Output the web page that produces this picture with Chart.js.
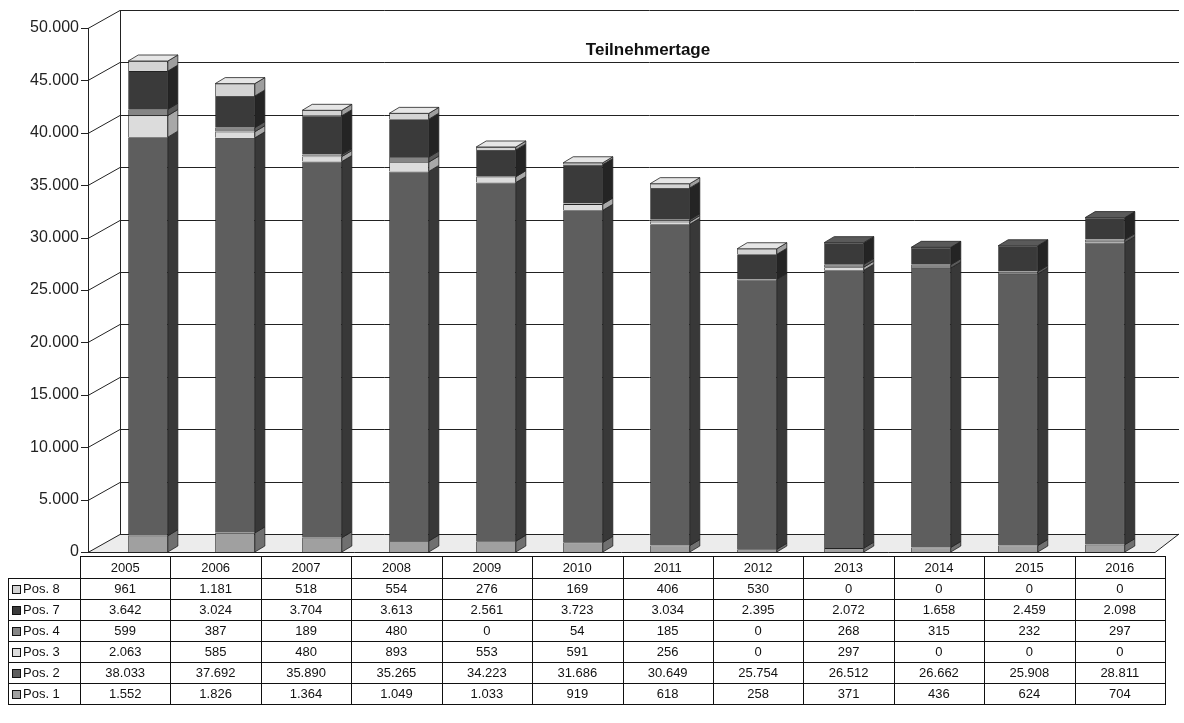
<!DOCTYPE html>
<html>
<head>
<meta charset="utf-8">
<script src="https://cdn.jsdelivr.net/npm/chart.js@4.4.0/dist/chart.umd.min.js"></script>
<style>
  html, body { margin: 0; padding: 0; background: #fff; }
  #wrap { width: 1184px; height: 723px; position: relative; }
</style>
</head>
<body>
<div id="wrap"><canvas id="chart" width="1184" height="723"></canvas></div>
<script>
const years = ['2005', '2006', '2007', '2008', '2009', '2010', '2011', '2012', '2013', '2014', '2015', '2016'];
const pos1 = [1552, 1826, 1364, 1049, 1033, 919, 618, 258, 371, 436, 624, 704];
const pos2 = [38033, 37692, 35890, 35265, 34223, 31686, 30649, 25754, 26512, 26662, 25908, 28811];
const pos3 = [2063, 585, 480, 893, 553, 591, 256, 0, 297, 0, 0, 0];
const pos4 = [599, 387, 189, 480, 0, 54, 185, 0, 268, 315, 232, 297];
const pos7 = [3642, 3024, 3704, 3613, 2561, 3723, 3034, 2395, 2072, 1658, 2459, 2098];
const pos8 = [961, 1181, 518, 554, 276, 169, 406, 530, 0, 0, 0, 0];
const yTicks = [0, 5000, 10000, 15000, 20000, 25000, 30000, 35000, 40000, 45000, 50000];

const WALL_DX = 32, WALL_DY = -18;
const BAR_DX = 10, BAR_DY = -6;
const FONT = '"Liberation Sans", Arial, sans-serif';

const series = [
  { label: 'Pos. 1', data: pos1, color: '#a0a0a0', side: '#707070', top: '#bcbcbc' },
  { label: 'Pos. 2', data: pos2, color: '#5e5e5e', side: '#383838', top: '#808080' },
  { label: 'Pos. 3', data: pos3, color: '#dcdcdc', side: '#a8a8a8', top: '#ececec' },
  { label: 'Pos. 4', data: pos4, color: '#858585', side: '#5a5a5a', top: '#a5a5a5' },
  { label: 'Pos. 7', data: pos7, color: '#3a3a3a', side: '#242424', top: '#5a5a5a' },
  { label: 'Pos. 8', data: pos8, color: '#d4d4d4', side: '#9e9e9e', top: '#e6e6e6' }
];

const fmt = v => v.toLocaleString('de-DE');

// back wall, floor and grid lines
const wallPlugin = {
  id: 'wall',
  beforeDatasetsDraw(chart) {
    const { ctx, chartArea: a, scales: { y } } = chart;
    ctx.save();
    ctx.fillStyle = '#ececec';
    ctx.beginPath();
    ctx.moveTo(a.left, a.bottom);
    ctx.lineTo(a.left + WALL_DX, a.bottom + WALL_DY);
    ctx.lineTo(a.right + 14, a.bottom + WALL_DY);
    ctx.lineTo(a.right - 10, a.bottom);
    ctx.closePath();
    ctx.fill();
    ctx.strokeStyle = '#222';
    ctx.lineWidth = 1;
    yTicks.forEach(v => {
      const py = Math.round(y.getPixelForValue(v)) + 0.5;
      ctx.beginPath();
      ctx.moveTo(a.left - 7, py);
      ctx.lineTo(a.left, py);
      ctx.lineTo(a.left + WALL_DX, py + WALL_DY);
      ctx.lineTo(a.right + 14, py + WALL_DY);
      ctx.stroke();
    });
    ctx.beginPath();
    ctx.moveTo(a.left + 0.5, a.top);
    ctx.lineTo(a.left + 0.5, a.bottom);
    ctx.moveTo(a.left + WALL_DX + 0.5, a.top + WALL_DY);
    ctx.lineTo(a.left + WALL_DX + 0.5, a.bottom + WALL_DY);
    ctx.moveTo(a.left, a.bottom + 0.5);
    ctx.lineTo(a.right - 10, a.bottom + 0.5);
    ctx.lineTo(a.right + 14, a.bottom + WALL_DY);
    ctx.stroke();
    ctx.fillStyle = '#111';
    ctx.font = 'bold 17px ' + FONT;
    ctx.textAlign = 'center';
    ctx.textBaseline = 'middle';
    ctx.fillText('Teilnehmertage', 648, 50);
    ctx.restore();
  }
};

// side and top faces of the bars
const bar3dPlugin = {
  id: 'bar3d',
  afterDatasetsDraw(chart) {
    const { ctx } = chart;
    ctx.save();
    ctx.strokeStyle = '#222';
    ctx.lineWidth = 0.8;
    years.forEach((yr, i) => {
      let topIdx = -1;
      series.forEach((s, d) => { if (s.data[i] > 0) topIdx = d; });
      series.forEach((s, d) => {
        if (s.data[i] <= 0) return;
        const el = chart.getDatasetMeta(d).data[i];
        const r = el.x + el.width / 2, l = el.x - el.width / 2;
        ctx.fillStyle = s.side;
        ctx.beginPath();
        ctx.moveTo(r, el.y);
        ctx.lineTo(r + BAR_DX, el.y + BAR_DY);
        ctx.lineTo(r + BAR_DX, el.base + BAR_DY);
        ctx.lineTo(r, el.base);
        ctx.closePath();
        ctx.fill();
        ctx.stroke();
        if (d === topIdx) {
          ctx.fillStyle = s.top;
          ctx.beginPath();
          ctx.moveTo(l, el.y);
          ctx.lineTo(l + BAR_DX, el.y + BAR_DY);
          ctx.lineTo(r + BAR_DX, el.y + BAR_DY);
          ctx.lineTo(r, el.y);
          ctx.closePath();
          ctx.fill();
          ctx.stroke();
        }
      });
    });
    ctx.restore();
  }
};

// data table under the chart
const tablePlugin = {
  id: 'dataTable',
  afterDraw(chart) {
    const { ctx, chartArea: a } = chart;
    const top = 556, headH = 22, rowH = 21;
    const labelL = 8, labelR = 80;
    const colW = (a.right - labelR) / years.length;
    const rows = series.slice().reverse();
    const colX = i => Math.round(labelR + i * colW) + 0.5;
    ctx.save();
    ctx.strokeStyle = '#111';
    ctx.lineWidth = 1;
    ctx.fillStyle = '#111';
    ctx.textBaseline = 'middle';
    ctx.font = '13px ' + FONT;
    ctx.textAlign = 'center';
    years.forEach((yr, i) => {
      ctx.strokeRect(colX(i), top + 0.5, colX(i + 1) - colX(i), headH);
      ctx.fillText(yr, labelR + (i + 0.5) * colW, top + headH / 2 + 1);
    });
    rows.forEach((s, r) => {
      const ry = top + headH + r * rowH;
      ctx.strokeRect(labelL + 0.5, ry + 0.5, labelR - labelL, rowH);
      ctx.fillStyle = s.color;
      ctx.fillRect(labelL + 4, ry + 7, 8, 8);
      ctx.strokeRect(labelL + 4.5, ry + 7.5, 8, 8);
      ctx.fillStyle = '#111';
      ctx.textAlign = 'left';
      ctx.fillText(s.label, labelL + 15, ry + rowH / 2 + 1);
      ctx.textAlign = 'center';
      years.forEach((yr, i) => {
        ctx.strokeRect(colX(i), ry + 0.5, colX(i + 1) - colX(i), rowH);
        ctx.fillText(fmt(s.data[i]), labelR + (i + 0.5) * colW, ry + rowH / 2 + 1);
      });
    });
    ctx.restore();
  }
};

new Chart(document.getElementById('chart').getContext('2d'), {
  type: 'bar',
  data: {
    datasets: series.map(s => ({
      label: s.label,
      data: s.data.map((v, i) => ({ x: i, y: v })),
      backgroundColor: s.color,
      borderColor: '#222',
      borderWidth: 0.8,
      categoryPercentage: 1,
      barPercentage: 0.66
    }))
  },
  options: {
    responsive: false,
    animation: false,
    layout: { padding: { top: 28, bottom: 171, left: 0, right: 19 } },
    plugins: {
      legend: { display: false },
      title: { display: false },
      tooltip: { enabled: false }
    },
    scales: {
      x: {
        type: 'linear',
        stacked: true,
        offset: false,
        min: -0.69,
        max: 11.69,
        ticks: { display: false },
        grid: { display: false, drawTicks: false },
        border: { display: false }
      },
      y: {
        stacked: true,
        min: 0,
        max: 50000,
        afterFit: s => { s.width = 88; },
        afterBuildTicks: s => { s.ticks = yTicks.map(v => ({ value: v })); },
        ticks: {
          padding: 1,
          color: '#222',
          font: { family: FONT, size: 16 },
          callback: v => fmt(v)
        },
        grid: { display: false },
        border: { display: false }
      }
    }
  },
  plugins: [wallPlugin, bar3dPlugin, tablePlugin]
});
</script>
</body>
</html>
